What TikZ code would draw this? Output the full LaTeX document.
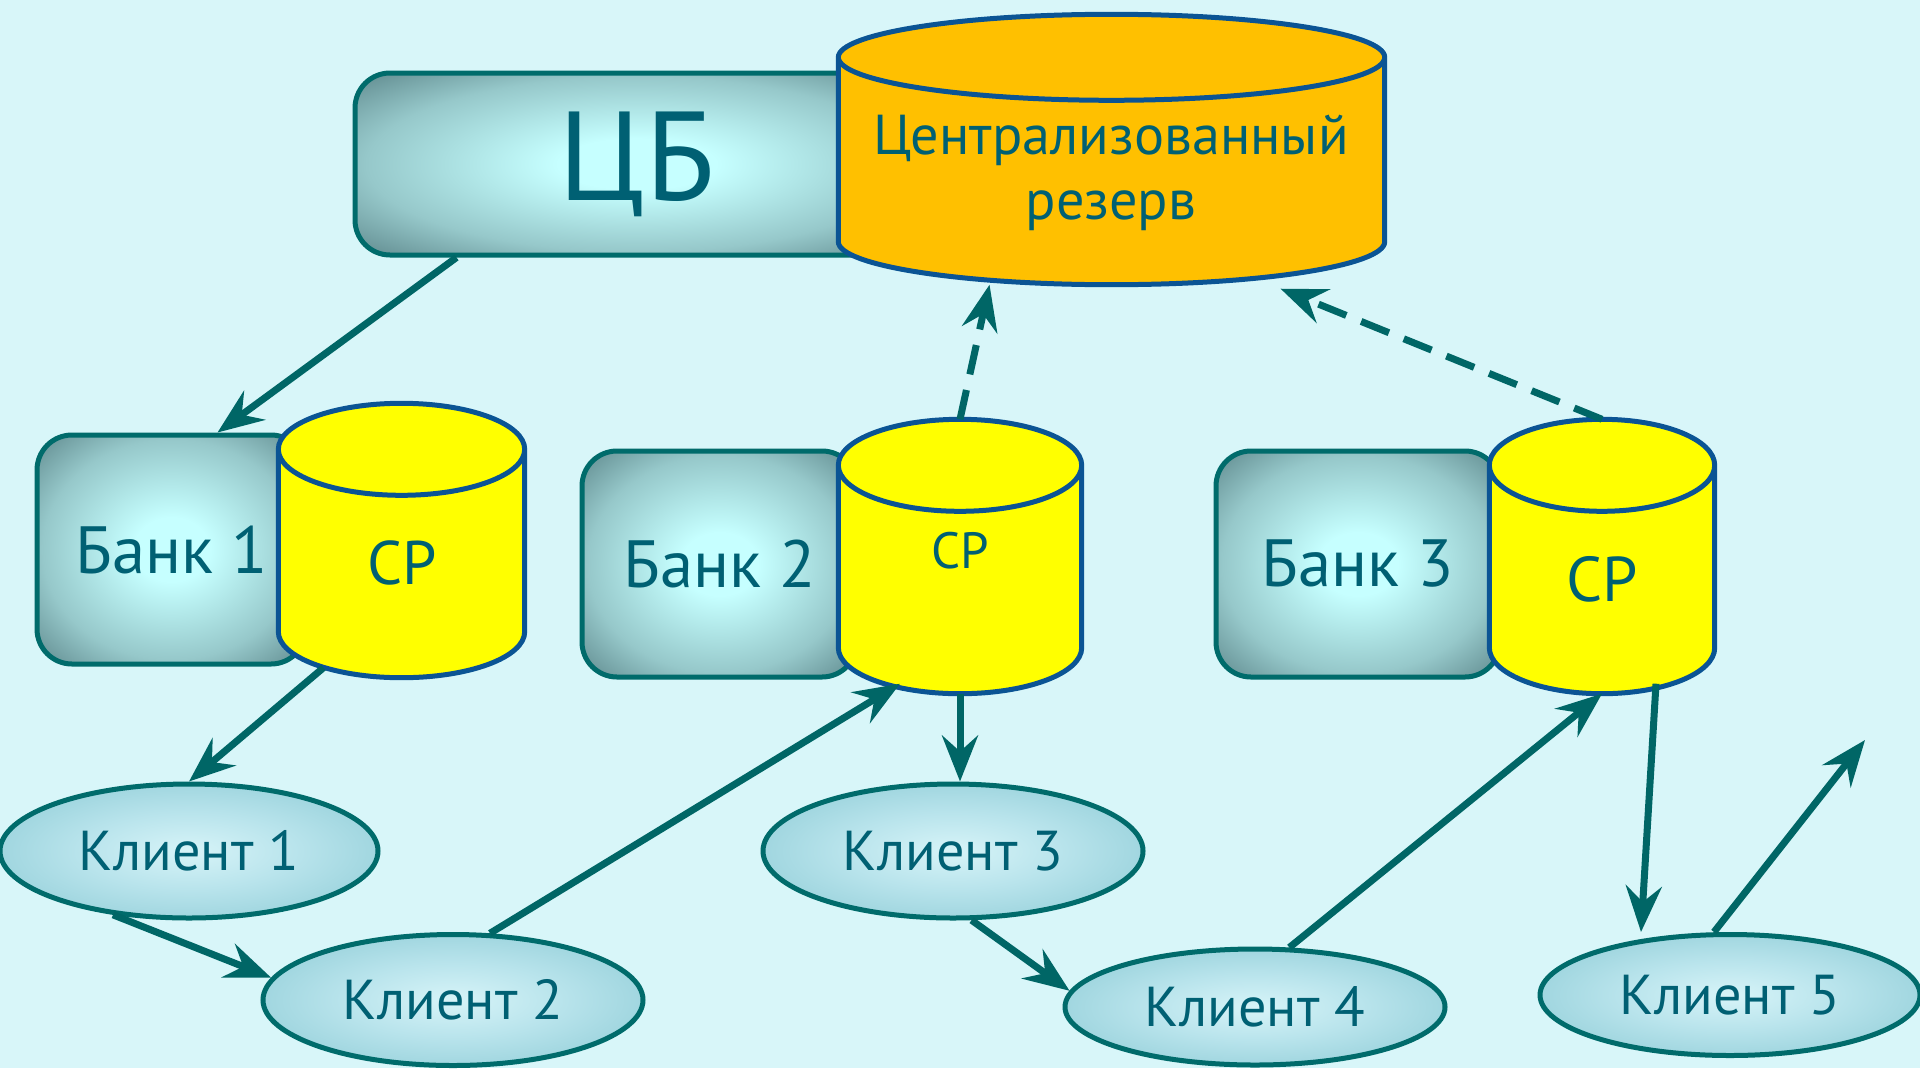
\documentclass[tikz,border=0pt]{standalone}
\usepackage{fontspec}
\setmainfont{PT Sans}
\usetikzlibrary{shapes.geometric, arrows.meta, calc}

\definecolor{bgcyan}{RGB}{216,246,249}
\definecolor{lineteal}{RGB}{0,102,102}
\definecolor{txtteal}{RGB}{0,96,115}
\definecolor{boxteal}{RGB}{0,107,107}
\definecolor{boxin}{RGB}{198,255,255}
\definecolor{boxmid}{RGB}{150,200,202}
\definecolor{boxout}{RGB}{92,134,138}
\definecolor{cylblue}{RGB}{11,84,148}
\definecolor{reservefill}{RGB}{255,192,0}
\definecolor{cpfill}{RGB}{255,255,0}
\definecolor{clientin}{RGB}{215,244,248}
\definecolor{clientmid}{RGB}{185,228,236}
\definecolor{clientout}{RGB}{150,208,218}

\pgfdeclareradialshading{boxglow}{\pgfpoint{0bp}{0bp}}{color(0bp)=(boxin); color(7bp)=(boxin); color(24bp)=(boxmid); color(36bp)=(boxout); color(50bp)=(boxout)}
\pgfdeclareradialshading{drops}{\pgfpoint{0bp}{0bp}}{color(0bp)=(clientin); color(14bp)=(clientmid); color(30bp)=(clientout); color(50bp)=(clientout)}

% cylinder drawn over an empty rectangle node: name, fill, end half-height
\newcommand{\drawcyl}[3]{%
  \path[draw=cylblue, line width=0.5mm, fill=#2]
    let \p1=(#1.north west), \p2=(#1.south east), \n1={(\x2-\x1)/2} in
    (\x1,\y1-#3) -- (\x1,\y2+#3)
      arc[start angle=180, end angle=360, x radius=\n1, y radius=#3]
    -- (\x2,\y1-#3)
      arc[start angle=0, end angle=180, x radius=\n1, y radius=#3] -- cycle
    (\x1,\y1-#3) arc[start angle=180, end angle=360, x radius=\n1, y radius=#3];
}

\begin{document}
\begin{tikzpicture}
\tikzstyle{bank}=[rectangle, rounded corners=3.5mm, draw=boxteal, line width=0.5mm, shading=boxglow, text=txtteal, inner sep=0pt]
\tikzstyle{cyl}=[rectangle, inner sep=0pt]
\tikzstyle{client}=[ellipse, draw=boxteal, line width=0.5mm, shading=drops, text=txtteal, inner sep=0pt, font=\fontsize{16}{19}\selectfont]
\tikzstyle{flow}=[draw=lineteal, line width=0.7mm, -{Stealth[length=4.6mm, width=3.6mm, inset=1.6mm]}]
\tikzstyle{link}=[flow, dash pattern=on 3mm off 1.6mm]
%
\useasboundingbox (0,0) rectangle (19.2,-10.68);
\fill[bgcyan] (0,0) rectangle (19.2,-10.68);

% banks
\node [bank] (cb) at (6.37,-1.64) [minimum width=5.64cm, minimum height=1.82cm, font=\fontsize{36}{40}\selectfont] {ЦБ};
\node [bank] (b1) at (1.715,-5.495) [minimum width=2.69cm, minimum height=2.29cm, font=\fontsize{19}{22}\selectfont] {Банк 1};
\node [bank] (b2) at (7.195,-5.64) [minimum width=2.75cm, minimum height=2.26cm, font=\fontsize{19}{22}\selectfont] {Банк 2};
\node [bank] (b3) at (13.58,-5.64) [minimum width=2.84cm, minimum height=2.26cm, font=\fontsize{19}{22}\selectfont] {Банк 3};

% reserves
\node [cyl] (cr) at (11.115,-1.495) [minimum width=5.45cm, minimum height=2.69cm] {};
\drawcyl{cr}{reservefill}{4.3mm}
\node [text=txtteal, align=center, font=\fontsize{16}{18.5}\selectfont] (crl) at (11.11,-1.73) {Централизованный\\резерв};

\node [cyl] (cp1) at (4.015,-5.405) [minimum width=2.45cm, minimum height=2.73cm] {};
\drawcyl{cp1}{cpfill}{4.6mm}
\node [text=txtteal, font=\fontsize{17.5}{20}\selectfont] (cp1l) at (4.02,-5.63) {СР};

\node [cyl] (cp2) at (9.60,-5.565) [minimum width=2.42cm, minimum height=2.73cm] {};
\drawcyl{cp2}{cpfill}{4.6mm}
\node [text=txtteal, font=\fontsize{14.5}{17}\selectfont] (cp2l) at (9.60,-5.51) {СР};

\node [cyl] (cp3) at (16.02,-5.565) [minimum width=2.24cm, minimum height=2.73cm] {};
\drawcyl{cp3}{cpfill}{4.6mm}
\node [text=txtteal, font=\fontsize{18}{21}\selectfont] (cp3l) at (16.02,-5.79) {СР};

% clients
\node [client] (k1) at (1.89,-8.51) [minimum width=3.78cm, minimum height=1.34cm] {Клиент 1};
\node [client] (k2) at (4.53,-10.00) [minimum width=3.80cm, minimum height=1.31cm] {Клиент 2};
\node [client] (k3) at (9.53,-8.51) [minimum width=3.80cm, minimum height=1.34cm] {Клиент 3};
\node [client] (k4) at (12.55,-10.07) [minimum width=3.80cm, minimum height=1.16cm] {Клиент 4};
\node [client] (k5) at (17.30,-9.95) [minimum width=3.80cm, minimum height=1.21cm] {Клиент 5};
\coordinate (free5) at (18.65,-7.40);

% money flows
\draw [flow] ([xshift=1.04cm]cb.south west) -- ([xshift=1.83cm]b1.north west);
\draw [flow] ([xshift=-0.78cm,yshift=0.1cm]cp1.south) -- (k1.north);
\draw [flow] (k1.220) -- (k2.173);
\draw [flow] (k2.61) -- ([xshift=-0.6cm,yshift=0.1cm]cp2.south);
\draw [flow] (cp2.south) -- ([xshift=0.07cm]k3.north);
\draw [flow] (k3.285) -- (k4.175);
\draw [flow] (k4.60) -- (cp3.south);
\draw [flow] ([xshift=0.54cm,yshift=0.1cm]cp3.south) -- ([xshift=-0.89cm]k5.north);
\draw [flow] ([xshift=-0.16cm]k5.north) -- (free5);
\draw [link] (cp2.north) -- ([xshift=-1.22cm]cr.south);
\draw [link] (cp3.north) -- ([xshift=1.69cm,yshift=-0.04cm]cr.south);
\end{tikzpicture}
\end{document}
